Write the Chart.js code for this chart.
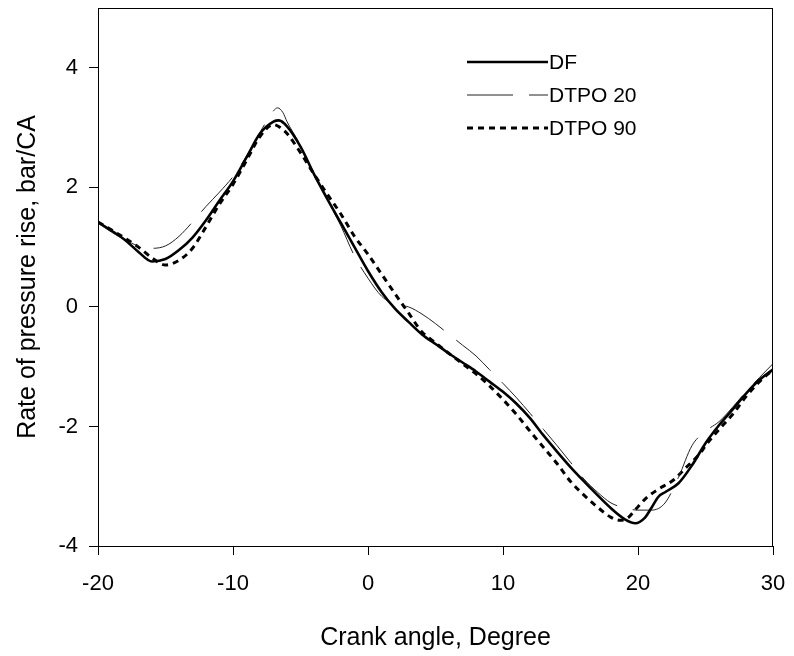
<!DOCTYPE html>
<html>
<head>
<meta charset="utf-8">
<script src="https://cdn.jsdelivr.net/npm/chart.js@4.4.1/dist/chart.umd.min.js"></script>
<style>
  html, body { margin: 0; padding: 0; background: #fff; }
  #wrap { width: 794px; height: 656px; }
</style>
</head>
<body>
<div id="wrap"><canvas id="chart" width="794" height="656"></canvas></div>
<script>
// crank angle (deg) and rate of pressure rise (bar/CA)
const dfAngle = [-20, -18, -17, -16, -15, -14, -13, -12, -11, -10, -9, -8, -7, -6.6, -6, -5, -4, -3, -2, -1, 0, 1, 2, 3, 4, 5, 6, 7, 8, 9, 10, 11, 12, 13, 14, 15, 16, 17, 18, 19, 19.8, 20.5, 21, 21.5, 22, 23, 24, 25, 26, 27, 28, 29, 30];
const dfRate = [1.42, 1.12, 0.92, 0.76, 0.80, 0.95, 1.16, 1.45, 1.78, 2.10, 2.50, 2.90, 3.10, 3.12, 3.02, 2.68, 2.22, 1.80, 1.40, 1.00, 0.60, 0.25, -0.03, -0.25, -0.46, -0.62, -0.78, -0.93, -1.08, -1.25, -1.42, -1.62, -1.86, -2.15, -2.42, -2.68, -2.92, -3.15, -3.37, -3.55, -3.62, -3.53, -3.36, -3.18, -3.10, -2.95, -2.65, -2.28, -1.98, -1.72, -1.45, -1.22, -1.05];

const t20Angle = [-20, -19, -18, -17, -16, -15, -14, -13, -12, -11, -10, -9, -8, -7, -6.7, -6.3, -6, -5, -4, -3, -2, -1, 0, 1, 2, 3, 4, 5, 6, 7, 8, 9, 10, 11, 12, 13, 14, 15, 16, 17, 18, 19, 20, 21, 22, 23, 24, 25, 26, 27, 28, 29, 30];
const t20Rate = [1.40, 1.25, 1.12, 1.02, 0.98, 1.02, 1.18, 1.42, 1.68, 1.92, 2.18, 2.52, 2.92, 3.28, 3.33, 3.25, 3.10, 2.70, 2.22, 1.78, 1.35, 0.85, 0.48, 0.18, 0.04, 0.00, -0.12, -0.28, -0.46, -0.64, -0.82, -1.05, -1.28, -1.52, -1.78, -2.05, -2.32, -2.60, -2.88, -3.10, -3.28, -3.36, -3.40, -3.40, -3.28, -2.85, -2.32, -2.08, -1.92, -1.68, -1.42, -1.18, -0.95];

const t90Angle = [-20, -18, -17, -16, -15, -14, -13, -12, -11, -10, -9, -8, -7, -6.5, -6, -5, -4, -3, -2, -1, 0, 1, 2, 3, 4, 5, 6, 7, 8, 9, 10, 11, 12, 13, 14, 15, 16, 17, 18, 18.7, 19.3, 19.7, 20.6, 21.5, 22.6, 23.5, 24.6, 25, 26, 27, 28, 29, 30];
const t90Rate = [1.42, 1.15, 1.00, 0.82, 0.70, 0.78, 0.98, 1.34, 1.72, 2.05, 2.45, 2.85, 3.05, 3.00, 2.90, 2.58, 2.22, 1.88, 1.55, 1.18, 0.88, 0.55, 0.22, -0.10, -0.42, -0.60, -0.78, -0.95, -1.12, -1.32, -1.55, -1.80, -2.08, -2.35, -2.62, -2.92, -3.15, -3.35, -3.52, -3.57, -3.52, -3.42, -3.20, -3.05, -2.90, -2.70, -2.45, -2.32, -2.05, -1.80, -1.50, -1.25, -1.05];

const seriesNames = ['DF', 'DTPO 20', 'DTPO 90'];
const xTickValues = [-20, -10, 0, 10, 20, 30];
const yTickValues = [-4, -2, 0, 2, 4];

const toPoints = (xs, ys) => xs.map((x, i) => ({ x: x, y: ys[i] }));
const FONT = 'Liberation Sans, Arial, Helvetica, sans-serif';

// box around the plot + hand-placed legend like the original
const frameAndLegend = {
    id: 'frameAndLegend',
    afterDatasetsDraw(chart) {
        const ctx = chart.ctx;
        const a = chart.chartArea;
        ctx.save();
        ctx.strokeStyle = '#000';
        ctx.lineWidth = 1;
        ctx.strokeRect(a.left + 0.5, a.top + 0.5, a.right - a.left - 1, a.bottom - a.top);

        ctx.font = '21px ' + FONT;
        ctx.textBaseline = 'middle';
        ctx.fillStyle = '#000';
        chart.data.datasets.forEach((ds, i) => {
            const y = 62 + i * 33;
            ctx.beginPath();
            ctx.setLineDash(ds.borderDash || []);
            ctx.lineWidth = ds.borderWidth;
            ctx.strokeStyle = ds.borderColor;
            ctx.moveTo(467, y);
            ctx.lineTo(548, y);
            ctx.stroke();
            ctx.setLineDash([]);
            ctx.fillText(ds.label, 549, y + 1);
        });
        ctx.restore();
    }
};

new Chart(document.getElementById('chart').getContext('2d'), {
    type: 'line',
    data: {
        datasets: [
            {
                label: seriesNames[0],
                data: toPoints(dfAngle, dfRate),
                borderColor: '#000',
                borderWidth: 2.6,
                pointRadius: 0,
                cubicInterpolationMode: 'monotone'
            },
            {
                label: seriesNames[1],
                data: toPoints(t20Angle, t20Rate),
                borderColor: '#222',
                borderWidth: 1,
                borderDash: [46, 16],
                pointRadius: 0,
                cubicInterpolationMode: 'monotone'
            },
            {
                label: seriesNames[2],
                data: toPoints(t90Angle, t90Rate),
                borderColor: '#000',
                borderWidth: 3,
                borderDash: [6, 5],
                pointRadius: 0,
                cubicInterpolationMode: 'monotone'
            }
        ]
    },
    options: {
        responsive: false,
        animation: false,
        devicePixelRatio: 1,
        layout: { padding: { left: 0, right: 21, top: 8, bottom: 0 } },
        plugins: {
            legend: { display: false },
            tooltip: { enabled: false }
        },
        scales: {
            x: {
                type: 'linear',
                min: -20,
                max: 30,
                afterBuildTicks: s => { s.ticks = xTickValues.map(v => ({ value: v })); },
                afterFit: s => { s.height = 110; s.paddingLeft = 0; s.paddingRight = 0; },
                grid: { display: true, drawOnChartArea: false, drawTicks: true, tickLength: 9, color: '#000' },
                border: { display: true, color: '#000', width: 1 },
                ticks: { color: '#000', font: { family: FONT, size: 22 }, padding: 16, maxRotation: 0 },
                title: { display: true, text: 'Crank angle, Degree', color: '#000', font: { family: FONT, size: 25 }, padding: { top: 0, bottom: 3 } }
            },
            y: {
                min: -4,
                max: 5,
                afterBuildTicks: s => { s.ticks = yTickValues.map(v => ({ value: v })); },
                afterFit: s => { s.width = 98; s.paddingTop = 0; s.paddingBottom = 0; },
                grid: { display: true, drawOnChartArea: false, drawTicks: true, tickLength: 9, color: '#000' },
                border: { display: true, color: '#000', width: 1 },
                ticks: { color: '#000', font: { family: FONT, size: 22 }, padding: 11 },
                title: { display: true, text: 'Rate of pressure rise, bar/CA', color: '#000', font: { family: FONT, size: 25 }, padding: { top: 13, bottom: 0 } }
            }
        }
    },
    plugins: [frameAndLegend]
});
</script>
</body>
</html>
